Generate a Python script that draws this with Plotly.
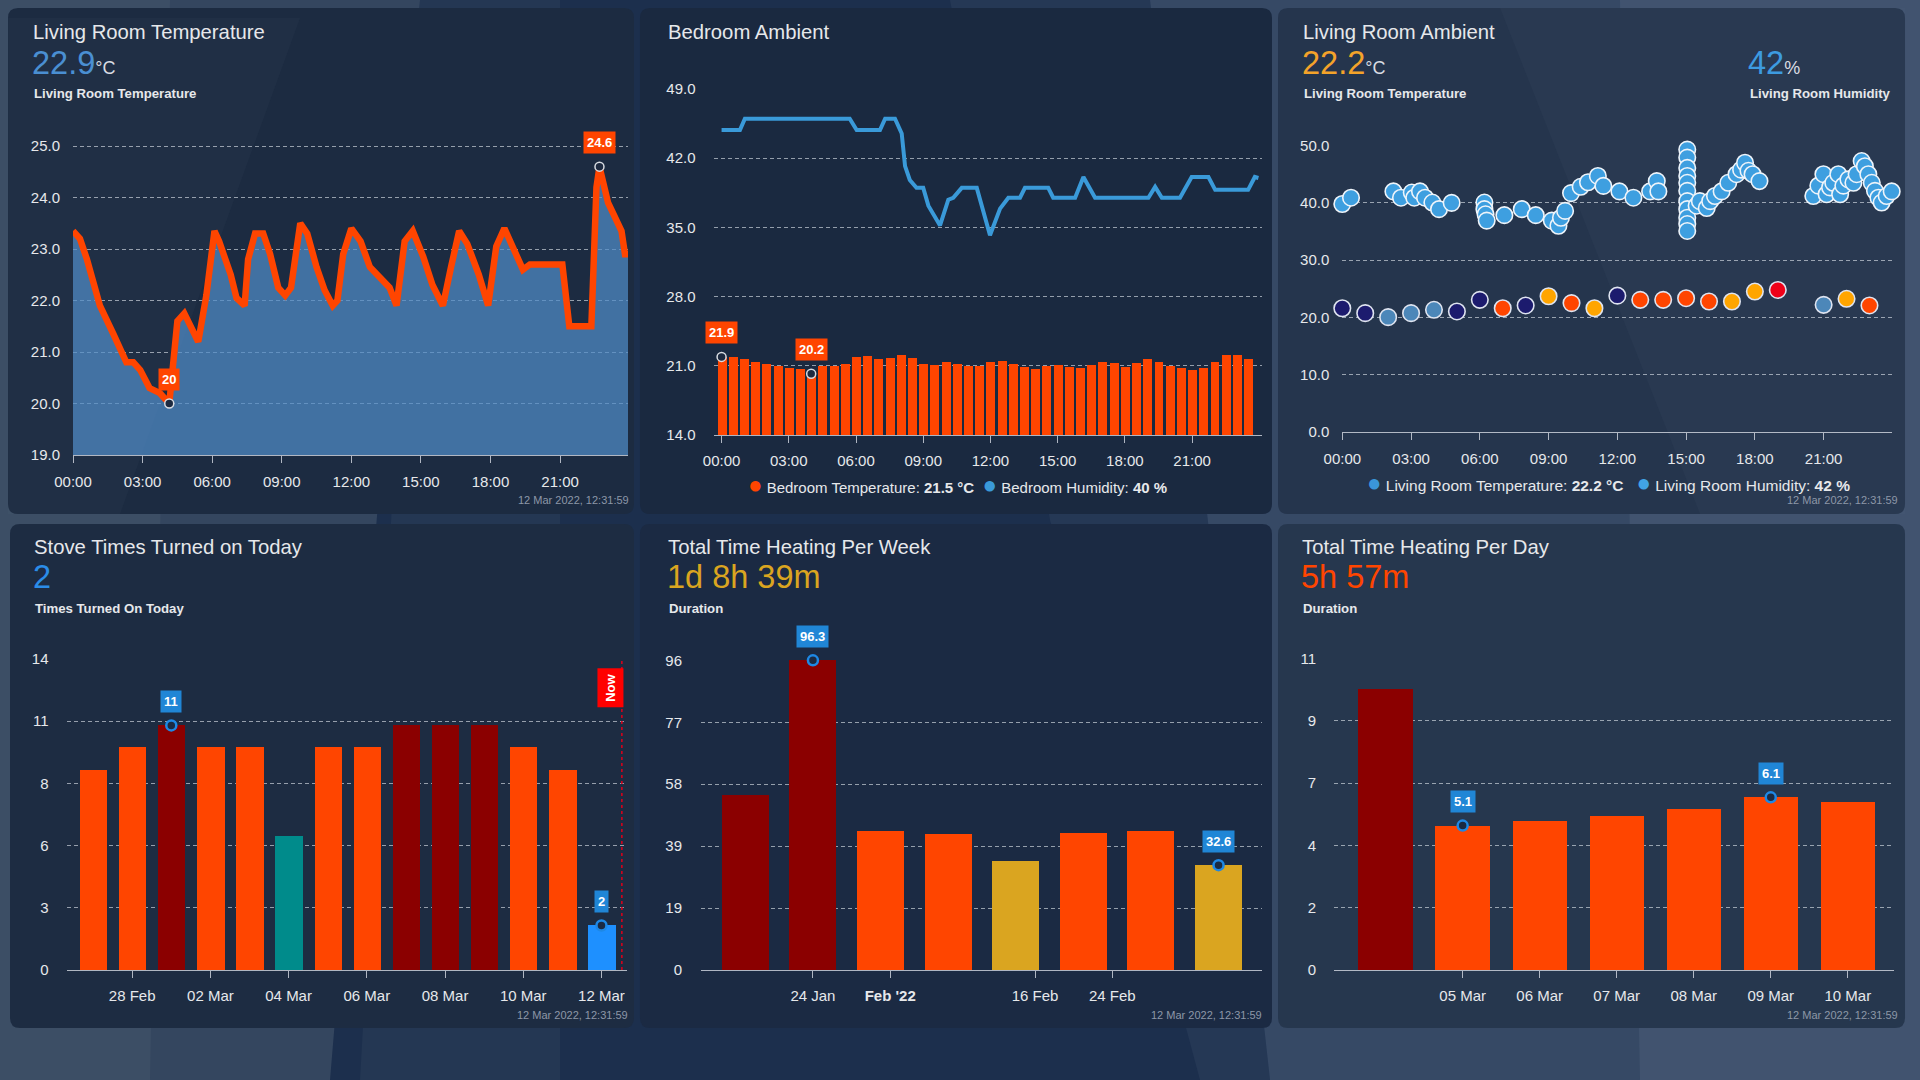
import plotly.graph_objects as go

W, H = 1920, 1080
FONT = "Liberation Sans, Arial, sans-serif"

ORANGE = "#FF4500"
DARKRED = "#8B0000"
TEAL = "#008B8B"
DODGER = "#1E90FF"
GOLD = "#DAA520"
HUMBLUE = "#3A9AD9"
NAVY = "#1C1B6E"
STEEL = "#4C87B9"
AMBER = "#FFA500"
RED = "#F00018"
LABELBLUE = "#2086D6"

TEXT = "#e6e8eb"
GRID = "rgba(225,230,238,0.62)"
AXIS = "rgba(225,230,238,0.75)"

# --- Living Room Temperature (hours since midnight, degC)
lr_hours = [0.0, 0.3, 0.6, 1.0, 1.16, 1.74, 2.3, 2.6, 2.9, 3.3, 3.75, 4.15, 4.3, 4.5, 4.8,
            5.1, 5.4, 5.75, 6.1, 6.3, 6.8, 7.05, 7.4, 7.55, 7.85, 8.2, 8.5, 8.85, 9.15, 9.4,
            9.8, 10.1, 10.5, 10.85, 11.2, 11.4, 11.65, 12.0, 12.4, 12.8, 13.2, 13.65, 13.95,
            14.3, 14.65, 15.1, 15.5, 15.95, 16.3, 16.65, 17.0, 17.5, 17.9, 18.25, 18.6, 19.05,
            19.4, 19.7, 21.1, 21.4, 22.35, 22.57, 22.7, 23.07, 23.43, 23.65, 23.8, 23.93]
lr_temp = [23.35, 23.2, 22.8, 22.1, 21.9, 21.35, 20.8, 20.8, 20.65, 20.3, 20.2, 20.0, 20.8,
           21.6, 21.75, 21.5, 21.2, 22.1, 23.35, 23.15, 22.5, 22.05, 21.9, 22.8, 23.3, 23.3,
           22.9, 22.25, 22.1, 22.25, 23.5, 23.3, 22.65, 22.2, 21.9, 22.0, 22.9, 23.4, 23.15,
           22.65, 22.45, 22.25, 21.9, 23.15, 23.35, 22.85, 22.3, 21.9, 22.65, 23.35, 23.1,
           22.5, 21.9, 23.05, 23.4, 22.95, 22.6, 22.7, 22.7, 21.5, 21.5, 24.2, 24.6, 23.9,
           23.55, 23.35, 22.9, 22.9]

# --- Bedroom Ambient
bed_hours = [0.0, 0.5, 1.0, 1.5, 2.0, 2.5, 3.0, 3.5, 4.0, 4.5, 5.0, 5.5, 6.0, 6.5, 7.0, 7.5,
             8.0, 8.5, 9.0, 9.5, 10.0, 10.5, 11.0, 11.5, 12.0, 12.5, 13.0, 13.5, 14.0, 14.5,
             15.0, 15.5, 16.0, 16.5, 17.0, 17.5, 18.0, 18.5, 19.0, 19.5, 20.0, 20.5, 21.0,
             21.5, 22.0, 22.5, 23.0, 23.5]
bed_temp = [21.9, 21.9, 21.7, 21.45, 21.25, 21.0, 20.85, 20.75, 20.2, 21.0,
            21.0, 21.2, 21.9, 22.0, 21.7, 21.8, 22.1, 21.8, 21.25, 21.15,
            21.45, 21.25, 21.0, 21.0, 21.45, 21.5, 21.25, 20.9, 20.7, 21.0,
            21.15, 20.95, 20.85, 21.15, 21.45, 21.3, 20.9, 21.35, 21.7, 21.4,
            21.05, 20.85, 20.65, 20.8, 21.45, 22.15, 22.15, 21.75]
bed_marked = [0, 8]
bed_hum_hours = [0.0, 0.82, 1.04, 5.72, 6.03, 7.07, 7.3, 7.74, 8.04, 8.19, 8.4, 8.7, 9.0,
                 9.23, 9.75, 10.12, 10.34, 10.72, 11.39, 11.98, 12.43, 12.8, 13.32, 13.54,
                 14.58, 14.8, 15.78, 16.15, 16.67, 19.05, 19.35, 19.65, 20.46, 20.98, 21.73,
                 22.03, 23.5, 23.8, 23.96]
bed_hum = [44.85, 44.85, 46.0, 46.0, 44.85, 44.85, 46.0, 46.0, 44.5, 41.2, 39.8, 39.0, 39.0,
           37.2, 35.2, 37.8, 38.0, 39.0, 39.0, 34.2, 36.9, 38.0, 38.0, 39.0, 39.0, 38.0,
           38.0, 40.1, 38.0, 38.0, 39.1, 38.0, 38.0, 40.1, 40.1, 38.8, 38.8, 40.1, 40.0]

# --- Living Room Ambient
amb_t_hours = [0, 1, 2, 3, 4, 5, 6, 7, 8, 9, 10, 11, 12, 13, 14, 15, 16, 17, 18, 19, 21, 22, 23]
amb_t_vals = [21.6, 20.75, 20.05, 20.75, 21.33, 21.04, 23.07, 21.6, 22.09, 23.7, 22.5, 21.6,
              23.8, 23.07, 23.07, 23.36, 22.78, 22.78, 24.52, 24.8, 22.2, 23.25, 22.09]
amb_t_colors = [NAVY, NAVY, STEEL, STEEL, STEEL, NAVY, NAVY, ORANGE, NAVY, AMBER, ORANGE, AMBER,
                NAVY, ORANGE, ORANGE, ORANGE, ORANGE, AMBER, AMBER, RED, STEEL, AMBER, ORANGE]
amb_h_hours = [0.0, 0.38, 2.23, 2.56, 3.03, 3.14, 3.39, 3.61, 3.93, 4.22, 4.77, 6.2, 6.2,
               6.25, 6.3, 7.07, 7.83, 8.44, 9.14, 9.43, 9.54, 9.72, 9.98, 10.4, 10.72, 11.15,
               11.39, 12.09, 12.7, 13.43, 13.72, 13.79, 15.05, 15.05, 15.05, 15.05, 15.05,
               15.05, 15.05, 15.05, 15.05, 15.05, 15.05, 15.46, 15.6, 15.9, 16.05, 16.26,
               16.55, 16.84, 17.2, 17.4, 17.57, 17.72, 17.9, 18.2, 20.55, 20.77, 20.99, 21.13,
               21.28, 21.42, 21.64, 21.72, 21.86, 22.08, 22.3, 22.44, 22.66, 22.8, 22.95, 23.1,
               23.24, 23.39, 23.53, 23.75, 23.97]
amb_h_vals = [39.8, 40.9, 42.0, 40.9, 41.8, 40.9, 42.0, 40.9, 40.05, 38.9, 40.0, 40.05, 38.9,
              38.0, 36.9, 37.85, 38.9, 37.85, 36.9, 36.0, 37.4, 38.6, 41.7, 42.8, 43.6, 44.7,
              42.96, 42.0, 40.9, 42.0, 43.8, 42.0, 49.3, 47.9, 46.1, 44.7, 43.5, 42.1, 40.3,
              38.9, 37.4, 36.3, 35.1, 39.5, 40.3, 39.1, 40.3, 41.2, 42.0, 43.5, 45.0, 45.8,
              47.0, 45.6, 45.0, 43.8, 41.2, 43.0, 45.0, 41.5, 42.7, 43.5, 45.0, 41.5, 43.0,
              44.1, 43.5, 45.0, 47.3, 46.4, 45.0, 43.5, 42.1, 40.9, 40.05, 41.2, 42.0]

# --- Stove times turned on
stove_days = ["2022-02-27", "2022-02-28", "2022-03-01", "2022-03-02", "2022-03-03",
              "2022-03-04", "2022-03-05", "2022-03-06", "2022-03-07", "2022-03-08",
              "2022-03-09", "2022-03-10", "2022-03-11", "2022-03-12"]
stove_counts = [9, 10, 11, 10, 10, 6, 10, 10, 11, 11, 11, 10, 9, 2]
stove_colors = [ORANGE, ORANGE, DARKRED, ORANGE, ORANGE, TEAL, ORANGE, ORANGE, DARKRED,
                DARKRED, DARKRED, ORANGE, ORANGE, DODGER]
stove_marked = [2, 13]
stove_ticks = ["2022-02-28", "2022-03-02", "2022-03-04", "2022-03-06", "2022-03-08",
               "2022-03-10", "2022-03-12"]
stove_ticktext = ["28 Feb", "02 Mar", "04 Mar", "06 Mar", "08 Mar", "10 Mar", "12 Mar"]
now_time = "2022-03-12 12:31"

# --- Heating per week (hours)
week_start = ["2022-01-17", "2022-01-24", "2022-01-31", "2022-02-07", "2022-02-14",
              "2022-02-21", "2022-02-28", "2022-03-07"]
week_hours = [54.3, 96.3, 43.1, 42.2, 33.9, 42.7, 43.1, 32.6]
week_colors = [DARKRED, DARKRED, ORANGE, ORANGE, GOLD, ORANGE, ORANGE, GOLD]
week_marked = [1, 7]
week_ticks = ["2022-01-24", "2022-02-01", "2022-02-16", "2022-02-24"]
week_ticktext = ["24 Jan", "<b>Feb '22</b>", "16 Feb", "24 Feb"]

# --- Heating per day (hours)
day_dates = ["2022-03-04", "2022-03-05", "2022-03-06", "2022-03-07", "2022-03-08",
             "2022-03-09", "2022-03-10"]
day_hours = [9.94, 5.1, 5.28, 5.45, 5.68, 6.1, 5.94]
day_colors = [DARKRED, ORANGE, ORANGE, ORANGE, ORANGE, ORANGE, ORANGE]
day_marked = [1, 5]
day_ticks = ["2022-03-05", "2022-03-06", "2022-03-07", "2022-03-08", "2022-03-09", "2022-03-10"]
day_ticktext = ["05 Mar", "06 Mar", "07 Mar", "08 Mar", "09 Mar", "10 Mar"]

hour_ticks = [0, 3, 6, 9, 12, 15, 18, 21]
hour_text = ["00:00", "03:00", "06:00", "09:00", "12:00", "15:00", "18:00", "21:00"]

DAY_MS = 86400000

fig = go.Figure()

# card 1
fig.add_trace(go.Scatter(x=lr_hours, y=lr_temp, mode="lines",
                         line=dict(color=ORANGE, width=6.5),
                         fill="tozeroy", fillcolor="rgba(80,140,200,0.72)",
                         xaxis="x", yaxis="y"))
i_min = lr_temp.index(min(lr_temp))
i_max = lr_temp.index(max(lr_temp))
lr_marked = [i_min, i_max]
fig.add_trace(go.Scatter(x=[lr_hours[i] for i in lr_marked], y=[lr_temp[i] for i in lr_marked],
                         mode="markers", cliponaxis=False,
                         marker=dict(size=9, color="#1d2a40", line=dict(color="#d8dce2", width=1.5)),
                         xaxis="x", yaxis="y"))

# card 2
fig.add_trace(go.Bar(x=bed_hours, y=bed_temp, width=0.4, marker=dict(color=ORANGE, line=dict(width=0)),
                     xaxis="x2", yaxis="y2"))
fig.add_trace(go.Scatter(x=bed_hum_hours, y=bed_hum, mode="lines", line=dict(color=HUMBLUE, width=4),
                         xaxis="x2", yaxis="y2"))
fig.add_trace(go.Scatter(x=[bed_hours[i] for i in bed_marked], y=[bed_temp[i] for i in bed_marked],
                         mode="markers", cliponaxis=False,
                         marker=dict(size=9, color="#1d2a40", line=dict(color="#d8dce2", width=1.5)),
                         xaxis="x2", yaxis="y2"))

# card 3
fig.add_trace(go.Scatter(x=amb_h_hours, y=amb_h_vals, mode="markers", cliponaxis=False,
                         marker=dict(size=16.5, color="#3E9FE0", line=dict(color="#eef4fa", width=1.6)),
                         xaxis="x3", yaxis="y3"))
fig.add_trace(go.Scatter(x=amb_t_hours, y=amb_t_vals, mode="markers", cliponaxis=False,
                         marker=dict(size=16.5, color=amb_t_colors, line=dict(color="#dfe4f0", width=1.6)),
                         xaxis="x3", yaxis="y3"))

# bottom cards
bottom = [
    (stove_days, stove_counts, stove_colors, stove_marked, 0.70, "x4", "y4"),
    (week_start, week_hours, week_colors, week_marked, 4.86, "x5", "y5"),
    (day_dates, day_hours, day_colors, day_marked, 0.705, "x6", "y6"),
]
for xs, ys, cols, marked, wd, xa, ya in bottom:
    fig.add_trace(go.Bar(x=xs, y=ys, width=wd * DAY_MS, marker=dict(color=cols, line=dict(width=0)),
                         xaxis=xa, yaxis=ya))
    fig.add_trace(go.Scatter(x=[xs[i] for i in marked], y=[ys[i] for i in marked], mode="markers",
                             cliponaxis=False,
                             marker=dict(size=10, color="#1b2a42", line=dict(color="#1E88E5", width=2.5)),
                             xaxis=xa, yaxis=ya))

tickfont = dict(family=FONT, size=15, color=TEXT)


def xax(left, right, anchor, standoff, **kw):
    d = dict(domain=[left / W, right / W], anchor=anchor, showgrid=False, zeroline=False,
             showline=True, linecolor=AXIS, linewidth=1, ticks="outside", ticklen=7,
             tickcolor=AXIS, tickfont=tickfont, ticklabelstandoff=standoff, fixedrange=True,
             automargin=False)
    d.update(kw)
    return d


def yax(top, bot, anchor, standoff, **kw):
    d = dict(domain=[1 - bot / H, 1 - top / H], anchor=anchor, showgrid=True, gridcolor=GRID,
             griddash="4px,3px", gridwidth=1, zeroline=False, showline=False, ticks="",
             tickfont=tickfont, ticklabelstandoff=standoff, fixedrange=True, automargin=False)
    d.update(kw)
    return d


layout_axes = dict(
    xaxis=xax(73, 628, "y", 6, range=[0, 23.93], tickvals=hour_ticks, ticktext=hour_text),
    yaxis=yax(145, 455, "x", 12, range=[19, 25.02], tickvals=[19, 20, 21, 22, 23, 24, 25],
              tickformat=".1f"),
    xaxis2=xax(713.5, 1262, "y2", 5, range=[-0.36, 24.12], tickvals=hour_ticks, ticktext=hour_text),
    yaxis2=yax(88.5, 435, "x2", 17, range=[14, 49.05], tickvals=[14, 21, 28, 35, 42, 49],
               tickformat=".1f"),
    xaxis3=xax(1342.3, 1891.7, "y3", 6, range=[0, 23.97], tickvals=hour_ticks, ticktext=hour_text),
    yaxis3=yax(145, 432, "x3", 12, range=[0, 50.1], tickvals=[0, 10, 20, 30, 40, 50],
               tickformat=".1f"),
    xaxis4=xax(66.5, 626.5, "y4", 5, type="date", range=["2022-02-26 07:41", "2022-03-12 15:22"],
               tickvals=stove_ticks, ticktext=stove_ticktext),
    yaxis4=yax(658.3, 970, "x4", 17, range=[0, 14.02], tickvals=[0, 2.8, 5.6, 8.4, 11.2, 14],
               ticktext=["0", "3", "6", "8", "11", "14"]),
    xaxis5=xax(701, 1262, "y5", 5, type="date", range=["2022-01-12 09:50", "2022-03-11 12:00"],
               tickvals=week_ticks, ticktext=week_ticktext),
    yaxis5=yax(660, 970, "x5", 18, range=[0, 96.4],
               tickvals=[0, 19.26, 38.52, 57.78, 77.04, 96.3],
               ticktext=["0", "19", "39", "58", "77", "96"]),
    xaxis6=xax(1334, 1894, "y6", 5, type="date", range=["2022-03-03 07:55", "2022-03-10 14:24"],
               tickvals=day_ticks, ticktext=day_ticktext),
    yaxis6=yax(658, 970, "x6", 17, range=[0, 11.02], tickvals=[0, 2.2, 4.4, 6.6, 8.8, 11],
               ticktext=["0", "2", "4", "7", "9", "11"]),
)


def P(x, y):
    return f"{x / W:.5f},{1 - y / H:.5f}"


def poly(*pts):
    return "M " + " L ".join(P(x, y) for x, y in pts) + " Z"


def rounded(x0, y0, x1, y1, r=10):
    return (f"M {P(x0 + r, y0)} L {P(x1 - r, y0)} Q {P(x1, y0)} {P(x1, y0 + r)} "
            f"L {P(x1, y1 - r)} Q {P(x1, y1)} {P(x1 - r, y1)} L {P(x0 + r, y1)} "
            f"Q {P(x0, y1)} {P(x0, y1 - r)} L {P(x0, y0 + r)} Q {P(x0, y0)} {P(x0 + r, y0)} Z")


def bg(path, color):
    return dict(type="path", xref="paper", yref="paper", layer="below", line=dict(width=0),
                fillcolor=color, path=path)


# background: dark centre, lighter grey-blue panes at both sides
shapes = [
    bg(poly((0, 0), (420, 0), (330, 1080), (0, 1080)), "rgba(110,125,140,0.30)"),
    bg(poly((0, 0), (170, 0), (150, 1080), (0, 1080)), "rgba(110,125,140,0.15)"),
    bg(poly((420, 0), (560, 0), (560, 1080), (360, 1080)), "rgba(110,125,140,0.10)"),
    bg(poly((1150, 0), (1920, 0), (1920, 1080), (1270, 1080)), "rgba(115,135,160,0.30)"),
    bg(poly((1620, 0), (1920, 0), (1920, 1080), (1640, 1080)), "rgba(115,135,160,0.18)"),
    bg(poly((950, 0), (1150, 0), (1270, 1080), (1200, 1080), (1050, 520)), "rgba(115,135,160,0.10)"),
]
cards = [(8, 8, 634, 514), (640, 8, 1272, 514), (1278, 8, 1905, 514),
         (10, 524, 634, 1028), (640, 524, 1272, 1028), (1278, 524, 1905, 1028)]
card_fill = ["#1c2b41", "#1a2940", "#25354d", "#1d2c42", "#1b2a43", "#26374e"]
for c, col in zip(cards, card_fill):
    shapes.append(bg(rounded(*c), col))
# soft light sheen on upper-left of the first card and right cards
shapes.append(bg(poly((8, 18), (300, 18), (120, 514), (8, 514)), "rgba(120,140,165,0.05)"))
shapes.append(bg(poly((1500, 8), (1905, 8), (1905, 514), (1700, 514)), "rgba(120,140,165,0.05)"))

# "Now" line on stove chart
shapes.append(dict(type="line", xref="x4", yref="y4 domain", x0=now_time, x1=now_time, y0=0, y1=1,
                   line=dict(color="#E0001A", width=1.5, dash="3px,3px")))

annotations = []


def label(px, py, text, size, color, anchor="left"):
    annotations.append(dict(x=px / W, y=1 - py / H, xref="paper", yref="paper", text=text,
                            showarrow=False, xanchor=anchor, yanchor="middle",
                            font=dict(family=FONT, size=size, color=color)))


def unit(u):
    return f"<span style='font-size:18px;color:#d9dde3'>{u}</span>"


TITLE, VALUE, SUB = 20.3, 32.5, 13.2

# headers
label(31, 32, "Living Room Temperature", TITLE, TEXT)
label(30, 63, "22.9" + unit("°C"), VALUE, "#4A8FD2")
label(32, 94, "<b>Living Room Temperature</b>", SUB, TEXT)

label(666, 32, "Bedroom Ambient", TITLE, TEXT)

label(1301, 32, "Living Room Ambient", TITLE, TEXT)
label(1300, 63, "22.2" + unit("°C"), VALUE, "#F4A32A")
label(1302, 94, "<b>Living Room Temperature</b>", SUB, TEXT)
label(1746, 63, "42" + unit("%"), VALUE, "#3D9BE0")
label(1748, 94, "<b>Living Room Humidity</b>", SUB, TEXT)

label(32, 547, "Stove Times Turned on Today", TITLE, TEXT)
label(31, 577, "2", VALUE, "#2B8DE8")
label(33, 608, "<b>Times Turned On Today</b>", SUB, TEXT)

label(666, 547, "Total Time Heating Per Week", TITLE, TEXT)
label(665, 577, "1d 8h 39m", VALUE, GOLD)
label(667, 608, "<b>Duration</b>", SUB, TEXT)

label(1300, 547, "Total Time Heating Per Day", TITLE, TEXT)
label(1299, 577, "5h 57m", VALUE, ORANGE)
label(1301, 608, "<b>Duration</b>", SUB, TEXT)

# legends
dot = "<span style='font-size:24px;color:{}'>●</span>"
label(957, 484, dot.format(ORANGE) + " Bedroom Temperature: <b>21.5 °C</b>  " +
      dot.format(HUMBLUE) + " Bedroom Humidity: <b>40 %</b>", 15, TEXT, "center")
label(1608, 483, dot.format("#3A96D8") + " Living Room Temperature: <b>22.2 °C</b>   " +
      dot.format("#41A4E4") + " Living Room Humidity: <b>42 %</b>", 15.5, TEXT, "center")

# timestamps
for tx, ty in [(631, 500), (1900, 500), (630, 1015), (1264, 1015), (1900, 1015)]:
    label(tx, ty, "12 Mar 2022, 12:31:59", 11, "#8d97a8", "right")


def point_label(xref, yref, x, y, text, bg_color):
    annotations.append(dict(x=x, y=y, xref=xref, yref=yref, text=f"<b>{text}</b>", showarrow=False,
                            yshift=24, bgcolor=bg_color, borderpad=3,
                            font=dict(family=FONT, size=13, color="white")))


for i in lr_marked:
    point_label("x", "y", lr_hours[i], lr_temp[i], f"{lr_temp[i]:g}", ORANGE)
for i in bed_marked:
    point_label("x2", "y2", bed_hours[i], bed_temp[i], f"{bed_temp[i]:g}", ORANGE)
for xs, ys, cols, marked, wd, xa, ya in bottom:
    for i in marked:
        point_label(xa, ya, xs[i], ys[i], f"{ys[i]:g}", LABELBLUE)

annotations.append(dict(x=now_time, y=0.905, xref="x4", yref="y4 domain", text="<b>Now</b>",
                        textangle=-90, showarrow=False, xshift=-11, yanchor="middle",
                        bgcolor="#FF0000", borderpad=5,
                        font=dict(family=FONT, size=13, color="white")))

fig.update_layout(
    width=W, height=H, margin=dict(l=0, r=0, t=0, b=0, autoexpand=False),
    paper_bgcolor="#1c2f4d", plot_bgcolor="rgba(0,0,0,0)",
    showlegend=False, hovermode=False, bargap=0,
    font=dict(family=FONT, color=TEXT),
    shapes=shapes, annotations=annotations,
    **layout_axes,
)

fig.write_html("out.html", config={"displayModeBar": False},
               post_script="document.body.style.margin='0';document.body.style.background='#1c2f4d';")
